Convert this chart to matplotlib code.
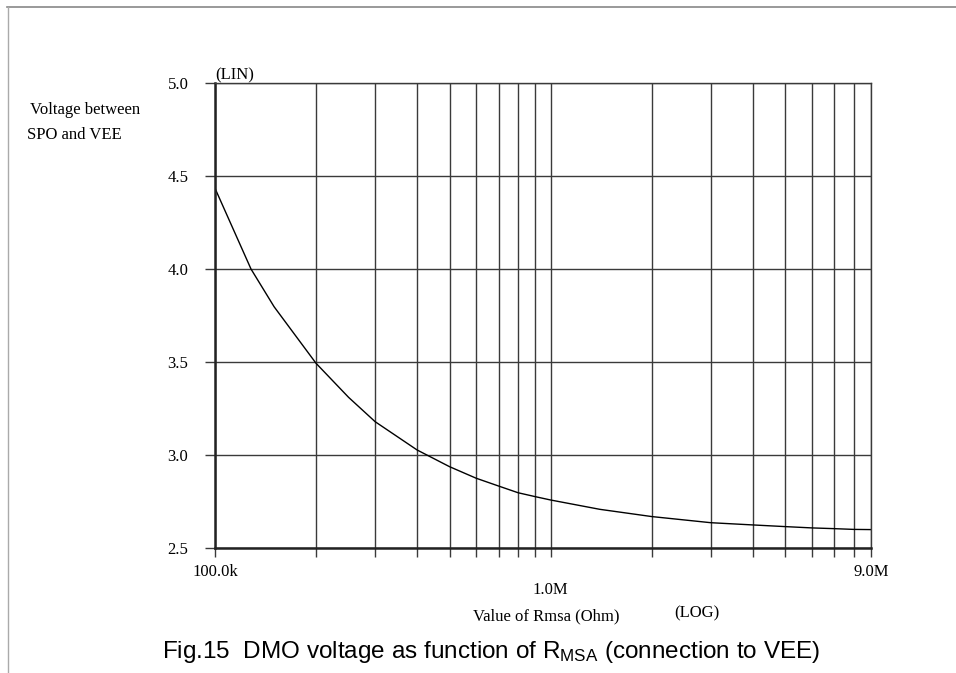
import matplotlib
matplotlib.use("Agg")
import matplotlib.pyplot as plt
from matplotlib.lines import Line2D
import numpy as np

# Data
r_ohm = [100e3, 128e3, 150e3, 200e3, 250e3, 300e3, 400e3, 500e3, 600e3, 700e3,
         800e3, 900e3, 1.0e6, 1.4e6, 2.0e6, 3.0e6, 4.0e6, 5.0e6, 6.0e6, 7.0e6,
         8.0e6, 9.0e6]
v_spo = [4.434, 4.00, 3.797, 3.493, 3.31, 3.179, 3.027, 2.937, 2.875, 2.833,
         2.797, 2.776, 2.758, 2.708, 2.669, 2.636, 2.624, 2.615, 2.608, 2.604,
         2.600, 2.599]

x_grid = [100e3, 200e3, 300e3, 400e3, 500e3, 600e3, 700e3, 800e3, 900e3,
          1e6, 2e6, 3e6, 4e6, 5e6, 6e6, 7e6, 8e6, 9e6]
x_labels = {100e3: "100.0k", 1e6: "\n1.0M", 9e6: "9.0M"}
y_ticks = [2.5, 3.0, 3.5, 4.0, 4.5, 5.0]
y_labels = ["2.5", "3.0", "3.5", "4.0", "4.5", "5.0"]

plt.rcParams['mathtext.fontset'] = 'custom'
plt.rcParams['mathtext.rm'] = 'Liberation Sans'
plt.rcParams['mathtext.it'] = 'Liberation Sans'

W, H = 956, 673
fig = plt.figure(figsize=(W / 100, H / 100), dpi=100)
ax = fig.add_axes([215 / W, (H - 548) / H, 656 / W, 465 / H])

ax.set_xscale('log')
ax.set_xlim(100e3, 9e6)
ax.set_ylim(2.5, 5.0)

gc = '#3a3a3a'
ax.set_xticks(x_grid)
ax.set_xticklabels([x_labels.get(x, "") for x in x_grid])
ax.xaxis.set_minor_locator(matplotlib.ticker.NullLocator())
ax.set_yticks(y_ticks)
ax.set_yticklabels(y_labels)

serif = 'Liberation Serif'
for lab in ax.get_xticklabels() + ax.get_yticklabels():
    lab.set_fontfamily(serif)
    lab.set_fontsize(12)
ax.tick_params(axis='x', direction='out', length=6.5, width=1.0, color=gc, pad=5)
ax.tick_params(axis='y', direction='out', length=7.2, width=1.0, color=gc, pad=12)

ax.grid(True, which='major', color=gc, lw=1.0)
for s in ['top', 'right']:
    ax.spines[s].set_color(gc)
    ax.spines[s].set_linewidth(1.0)
for s in ['left', 'bottom']:
    ax.spines[s].set_color('#222222')
    ax.spines[s].set_linewidth(1.8)

ax.plot(r_ohm, v_spo, color='black', lw=1.0)

# Axis annotations
fig.text(215 / W, 1 - 75 / H, "(LIN)", fontfamily=serif, fontsize=12, ha='left', va='center')
fig.text(30 / W, 1 - 110 / H, "Voltage between", fontfamily=serif, fontsize=12, ha='left', va='center')
fig.text(27 / W, 1 - 135 / H, "SPO and VEE", fontfamily=serif, fontsize=12, ha='left', va='center')
fig.text(546 / W, 1 - 616 / H, "Value of Rmsa (Ohm)", fontfamily=serif, fontsize=12, ha='center', va='center')
fig.text(697 / W, 1 - 613 / H, "(LOG)", fontfamily=serif, fontsize=12, ha='center', va='center')

fig.text(491 / W, 1 - 652 / H, r"Fig.15  DMO voltage as function of R$_{\mathrm{MSA}}$ (connection to VEE)",
         fontfamily='Liberation Sans', fontsize=17.5, ha='center', va='center')

# Page border lines
fig.add_artist(Line2D([7 / W, 1.0], [1 - 7 / H, 1 - 7 / H], transform=fig.transFigure,
                      color='#888888', lw=1.2))
fig.add_artist(Line2D([8 / W, 8 / W], [1 - 7 / H, 0.0], transform=fig.transFigure,
                      color='#aaaaaa', lw=1.0))

fig.savefig("out.png", dpi=100)
